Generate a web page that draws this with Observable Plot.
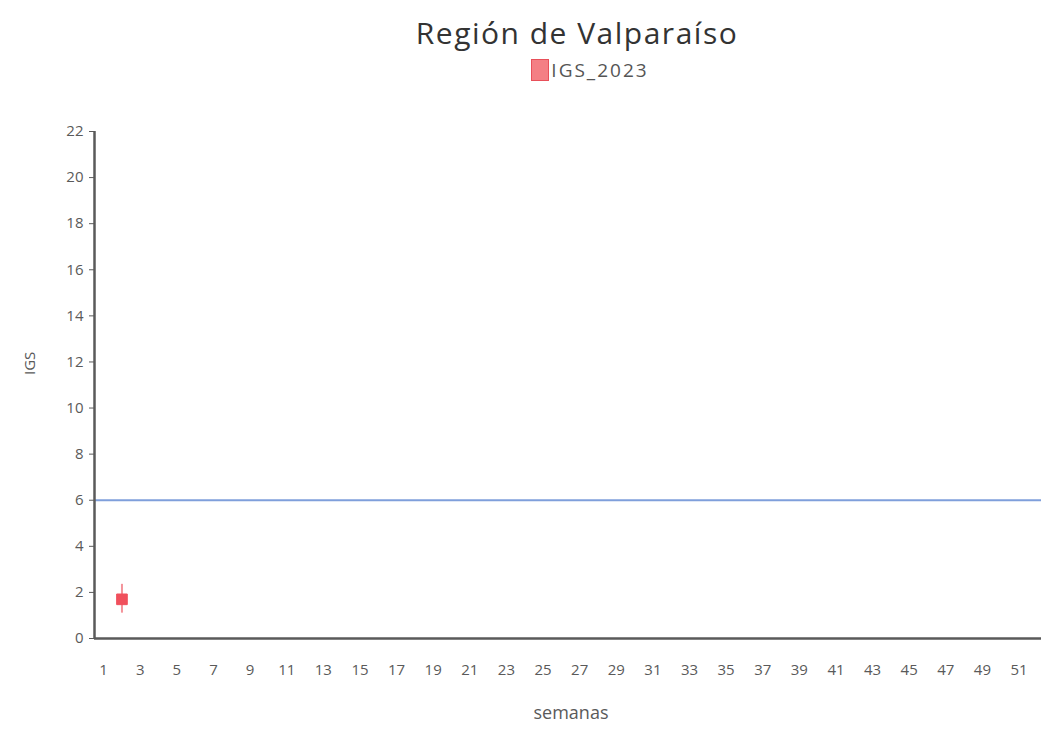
<!DOCTYPE html>
<html>
<head>
<meta charset="utf-8">
<script src="https://cdn.jsdelivr.net/npm/d3@7"></script>
<script src="https://cdn.jsdelivr.net/npm/@observablehq/plot@0.6"></script>
<style>
  html, body { margin: 0; padding: 0; background: #fff; }
  body { width: 1041px; height: 731px; overflow: hidden; font-family: "Open Sans", sans-serif; }
  .titulo { position: absolute; left: 0; width: 1154px; top: 13px; text-align: center;
            font-family: "Open Sans", sans-serif; font-size: 30px; letter-spacing: 1.5px; color: #333; line-height: 40px; }
  .leyenda { position: absolute; left: 0; width: 1180px; top: 56px; text-align: center;
             font-family: "Open Sans", sans-serif; font-size: 19px; color: #555; line-height: 28px; letter-spacing: 2px; }
  .leyenda .caja { display: inline-block; width: 16px; height: 20px; background: #f47f84;
                   border: 1px solid #e8505a; vertical-align: middle; margin-right: 2px; margin-top: -3px; }
  #grafico { position: absolute; left: 0; top: 90px; }
</style>
</head>
<body>
<div class="titulo">Región de Valparaíso</div>
<div class="leyenda"><span class="caja"></span>IGS_2023</div>
<div id="grafico"></div>
<script>
// Serie IGS_2023 (semana epidemiológica, valor, intervalo)
const semanas = [2];
const igs = [1.7];
const igsBajo = [1.1];
const igsAlto = [2.35];
const umbral = [6];

const ticksX = [1, 3, 5, 7, 9, 11, 13, 15, 17, 19, 21, 23, 25, 27, 29, 31, 33, 35, 37, 39, 41, 43, 45, 47, 49, 51];
const ticksY = [0, 2, 4, 6, 8, 10, 12, 14, 16, 18, 20, 22];

const datos = semanas.map((s, i) => ({ semana: s, igs: igs[i], bajo: igsBajo[i], alto: igsAlto[i] }));

const grafico = Plot.plot({
  width: 1041,
  height: 641,
  marginLeft: 94,
  marginRight: 0,
  marginTop: 41,
  marginBottom: 93,
  style: { fontFamily: "Open Sans, sans-serif", fontSize: "15px", color: "#5a5a5a", background: "#fff", overflow: "visible" },
  x: { domain: [0.5, 52.5], range: [94, 1046], ticks: ticksX, tickSize: 0, tickPadding: 26, label: null },
  y: { domain: [0, 22], ticks: ticksY, tickSize: 5, tickPadding: 6, label: null },
  marks: [
    Plot.ruleY(umbral, { stroke: "#7f9fdb", strokeWidth: 2 }),
    Plot.ruleX(datos, { x: "semana", y1: "bajo", y2: "alto", stroke: "#f4939a", strokeWidth: 2 }),
    Plot.dot(datos, { x: "semana", y: "igs", symbol: "square", r: 6, fill: "#f0505c", stroke: "#f0505c", strokeWidth: 1 }),
    Plot.ruleY([0], { stroke: "#5a5a5a", strokeWidth: 2.5 }),
    Plot.ruleX([0.5], { stroke: "#5a5a5a", strokeWidth: 2.5 }),
    Plot.text(["semanas"], { frameAnchor: "bottom", text: (d) => d, dx: 3, dy: 80, fontSize: 18, fill: "#5a5a5a" }),
    Plot.text(["IGS"], { frameAnchor: "left", text: (d) => d, rotate: -90, dx: -64, dy: -10, fontSize: 15, fill: "#5a5a5a" })
  ]
});
document.getElementById("grafico").appendChild(grafico);
</script>
</body>
</html>
